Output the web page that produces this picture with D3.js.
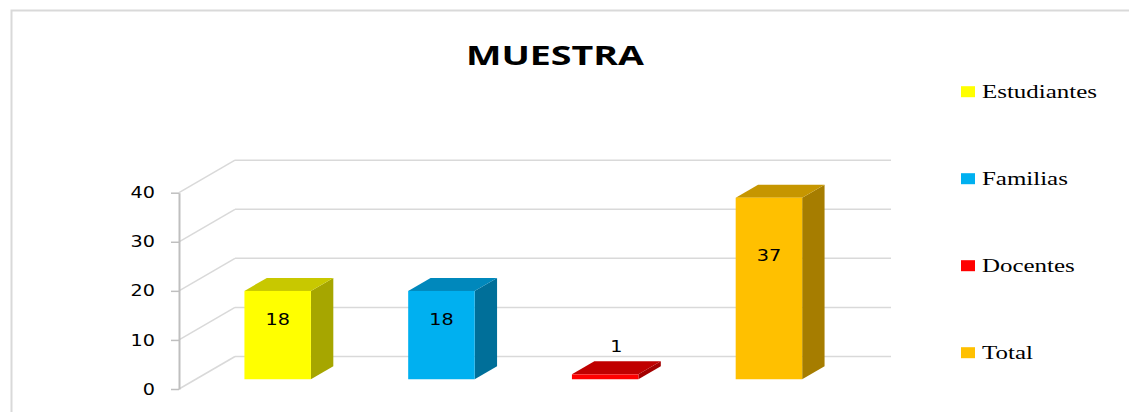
<!DOCTYPE html>
<html>
<head>
<meta charset="utf-8">
<script src="https://cdn.jsdelivr.net/npm/d3@7"></script>
<style>
  html, body { margin: 0; padding: 0; background: #fff; }
  svg { display: block; }
</style>
</head>
<body>
<div id="chart"></div>
<script>
'use strict';

// data
var categories = ['Estudiantes', 'Familias', 'Docentes', 'Total'];
var values = [18, 18, 1, 37];
var yTicks = [0, 10, 20, 30, 40];
var title = 'MUESTRA';

// face colours per category: front, top, side
var frontColors = ['#FFFF00', '#00B0F0', '#FF0000', '#FFC000'];
var topColors = ['#C8C800', '#0088BC', '#C00000', '#C69600'];
var sideColors = ['#A6A600', '#006F99', '#A30000', '#A67D00'];

var W = 1129, H = 412;
var stretch = 1.28; // text in the picture is wider than tall

var svg = d3.select('#chart').append('svg')
	.attr('width', W)
	.attr('height', H);

// frame
svg.append('rect')
	.attr('x', 11.5).attr('y', 10.5)
	.attr('width', W + 20).attr('height', H + 20)
	.attr('fill', 'none')
	.attr('stroke', '#D9D9D9')
	.attr('stroke-width', 2);

// 3d plot geometry
var plotLeft = 179, plotRight = 834;
var depth = {x: 56, y: -32.5};
var barNear = 0.3, barFar = 0.7;

var xScale = d3.scaleBand()
	.domain(categories)
	.range([plotLeft, plotRight])
	.paddingInner(0.594)
	.paddingOuter(0.297);

var yScale = d3.scaleLinear()
	.domain([0, 40])
	.range([389, 192.7]);

// grid: diagonal on the side wall + lines on the back wall
var grid = svg.append('g').attr('class', 'grid');
grid.selectAll('line.diag').data(yTicks).enter().append('line')
	.attr('class', 'diag')
	.attr('x1', plotLeft)
	.attr('y1', function(d){ return yScale(d); })
	.attr('x2', plotLeft + depth.x)
	.attr('y2', function(d){ return yScale(d) + depth.y; })
	.attr('stroke', '#D9D9D9')
	.attr('stroke-width', 1.5);

grid.selectAll('line.back').data(yTicks).enter().append('line')
	.attr('class', 'back')
	.attr('x1', plotLeft + depth.x)
	.attr('y1', function(d){ return yScale(d) + depth.y; })
	.attr('x2', plotRight + depth.x + 1)
	.attr('y2', function(d){ return yScale(d) + depth.y; })
	.attr('stroke', '#D9D9D9')
	.attr('stroke-width', 1.5);

// y axis
var yAxis = d3.axisLeft(yScale).tickValues(yTicks).tickSizeInner(8).tickSizeOuter(0);
var gy = svg.append('g')
	.attr('class', 'axis y')
	.attr('transform', 'translate(' + plotLeft + ',0)')
	.call(yAxis);
gy.select('.domain').attr('stroke', '#BFBFBF').attr('stroke-width', 2);
gy.selectAll('.tick line').attr('stroke', '#BFBFBF').attr('stroke-width', 1.5);
gy.selectAll('.tick text')
	.attr('x', 0)
	.attr('dy', '0.34em')
	.attr('transform', 'translate(-24,0) scale(' + stretch + ',1)')
	.attr('fill', '#000')
	.style('font-family', '"DejaVu Sans", Verdana, sans-serif')
	.style('font-size', '15px');

// bars
var bw = xScale.bandwidth();
var nearX = depth.x * barNear, nearY = depth.y * barNear;
var dX = depth.x * (barFar - barNear), dY = depth.y * (barFar - barNear);

var bars = svg.append('g').attr('class', 'bars')
	.selectAll('g').data(values).enter().append('g');

bars.each(function(v, i){
	var g = d3.select(this);
	var x0 = xScale(categories[i]) + nearX;
	var x1 = x0 + bw;
	var yb = yScale(0) + nearY;
	var yt = yScale(v) + nearY;
	var pts = function(a){ return a.map(function(p){ return p.join(','); }).join(' '); };

	// side
	g.append('polygon')
		.attr('points', pts([[x1, yt], [x1 + dX, yt + dY], [x1 + dX, yb + dY], [x1, yb]]))
		.attr('fill', sideColors[i]);
	// top
	g.append('polygon')
		.attr('points', pts([[x0, yt], [x0 + dX, yt + dY], [x1 + dX, yt + dY], [x1, yt]]))
		.attr('fill', topColors[i]);
	// front
	g.append('rect')
		.attr('x', x0).attr('y', yt)
		.attr('width', bw).attr('height', yb - yt)
		.attr('fill', frontColors[i]);

	// value label
	var h = yb - yt;
	var lx, ly;
	if (h > 30) {
		lx = x0 + bw / 2;
		ly = yb - 0.68 * h + 5.5;
	} else {
		lx = x0 + (bw + dX) / 2;
		ly = yt + dY - 9;
	}
	g.append('text')
		.attr('transform', 'translate(' + lx + ',' + ly + ') scale(' + stretch + ',1)')
		.attr('text-anchor', 'middle')
		.style('font-family', '"DejaVu Sans", Verdana, sans-serif')
		.style('font-size', '15px')
		.attr('fill', '#000')
		.text(v);
});

// title
svg.append('text')
	.attr('x', 555).attr('y', 64.5)
	.attr('text-anchor', 'middle')
	.attr('textLength', 178)
	.attr('lengthAdjust', 'spacingAndGlyphs')
	.style('font-family', '"Open Sans", "Liberation Sans", sans-serif')
	.style('font-weight', 'bold')
	.style('font-size', '27px')
	.attr('fill', '#000')
	.text(title);

// legend
var legendY = d3.scalePoint()
	.domain(categories)
	.range([91.7, 352.7]);

var legend = svg.append('g').attr('class', 'legend')
	.selectAll('g').data(categories).enter().append('g')
	.attr('transform', function(d){ return 'translate(961,' + legendY(d) + ')'; });

legend.append('rect')
	.attr('x', 0).attr('y', -5.5)
	.attr('width', 14).attr('height', 11)
	.attr('fill', function(d, i){ return frontColors[i]; });

legend.append('text')
	.attr('transform', 'translate(21,6.5) scale(' + stretch + ',1)')
	.style('font-family', '"Liberation Serif", "Times New Roman", serif')
	.style('font-size', '19.5px')
	.attr('fill', '#000')
	.text(function(d){ return d; });
</script>
</body>
</html>
